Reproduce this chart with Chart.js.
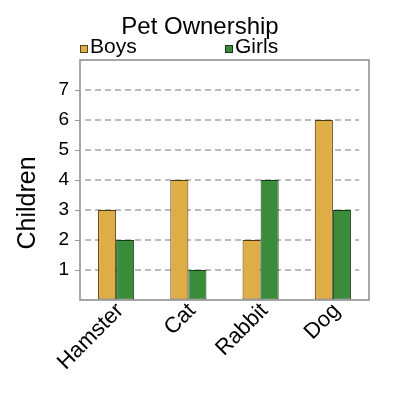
<!DOCTYPE html>
<html>
<head>
<meta charset="utf-8">
<script src="https://cdn.jsdelivr.net/npm/chart.js@4"></script>
<style>
  body { margin: 0; background: #fff; }
  #wrap { width: 400px; height: 400px; }
</style>
</head>
<body>
<div id="wrap"><canvas id="petChart" width="400" height="400"></canvas></div>
<script>
// chart data
const pets = ['Hamster', 'Cat', 'Rabbit', 'Dog'];
const boys = [3, 4, 2, 6];
const girls = [2, 1, 4, 3];
const yTicks = [1, 2, 3, 4, 5, 6, 7];

const FONT = "'Liberation Sans', Arial, sans-serif";

// box round the plot, dashed grid lines, title, legend and y title
const decorations = {
  id: 'decorations',
  beforeDatasetsDraw(chart) {
    const ctx = chart.ctx;
    const area = chart.chartArea;
    const y = chart.scales.y;
    ctx.save();
    ctx.strokeStyle = '#bdbdbd';
    ctx.lineWidth = 2;
    ctx.setLineDash([6, 4]);
    yTicks.forEach(function (v) {
      const py = Math.round(y.getPixelForValue(v));
      ctx.beginPath();
      ctx.moveTo(area.left + 5, py);
      ctx.lineTo(area.right - 10, py);
      ctx.stroke();
    });
    ctx.restore();
  },
  afterDraw(chart) {
    const ctx = chart.ctx;
    const area = chart.chartArea;
    ctx.save();
    ctx.strokeStyle = '#8a8a8a';
    ctx.lineWidth = 1.5;
    ctx.strokeRect(area.left, area.top, area.right - area.left, area.bottom - area.top);

    // title
    ctx.fillStyle = '#000';
    ctx.font = '24px ' + FONT;
    ctx.textAlign = 'center';
    ctx.textBaseline = 'middle';
    ctx.fillText('Pet Ownership', 200, 27);

    // legend
    ctx.font = '21px ' + FONT;
    ctx.textAlign = 'left';
    const legendX = [area.left, area.left + 145];
    chart.data.datasets.forEach(function (ds, i) {
      const x = legendX[i];
      ctx.fillStyle = ds.backgroundColor;
      ctx.fillRect(x, 45, 8, 8);
      ctx.strokeStyle = 'rgba(0,0,0,0.6)';
      ctx.lineWidth = 1;
      ctx.strokeRect(x + 0.5, 45.5, 7, 7);
      ctx.fillStyle = '#000';
      ctx.fillText(ds.label, x + 10, 47);
    });

    // y axis title
    ctx.translate(28, 203);
    ctx.rotate(-Math.PI / 2);
    ctx.textAlign = 'center';
    ctx.font = '25px ' + FONT;
    ctx.fillText('Children', 0, 0);
    ctx.restore();
  }
};

new Chart(document.getElementById('petChart').getContext('2d'), {
  type: 'bar',
  data: {
    labels: pets,
    datasets: [{
      label: 'Boys',
      data: boys,
      backgroundColor: '#dead46',
      borderColor: '#4a3a10',
      borderWidth: 1,
      borderSkipped: false
    }, {
      label: 'Girls',
      data: girls,
      backgroundColor: '#3a8c3a',
      borderColor: '#163a16',
      borderWidth: 1,
      borderSkipped: false
    }]
  },
  plugins: [decorations],
  options: {
    responsive: false,
    animation: false,
    devicePixelRatio: 1,
    layout: { padding: { left: 0, right: 31, top: 60, bottom: 0 } },
    datasets: {
      bar: { categoryPercentage: 0.5, barPercentage: 1.0 }
    },
    plugins: {
      legend: { display: false },
      tooltip: { enabled: false },
      title: { display: false }
    },
    scales: {
      x: {
        grid: { display: false, drawTicks: false },
        border: { display: false },
        ticks: {
          color: '#000',
          font: { family: FONT, size: 22 },
          minRotation: 45,
          maxRotation: 45,
          autoSkip: false,
          padding: -2,
          labelOffset: 4
        },
        afterFit(scale) { scale.height = 100; }
      },
      y: {
        min: 0,
        max: 8,
        border: { display: false },
        grid: {
          drawOnChartArea: false,
          drawTicks: true,
          tickLength: 5,
          color: function (c) {
            return yTicks.includes(c.tick.value) ? '#9a9a9a' : 'rgba(0,0,0,0)';
          }
        },
        ticks: {
          stepSize: 1,
          color: '#000',
          font: { family: FONT, size: 19 },
          padding: 6,
          callback: function (v) { return yTicks.includes(v) ? v : ''; }
        },
        afterFit(scale) { scale.width = 80; }
      }
    }
  }
});
</script>
</body>
</html>
